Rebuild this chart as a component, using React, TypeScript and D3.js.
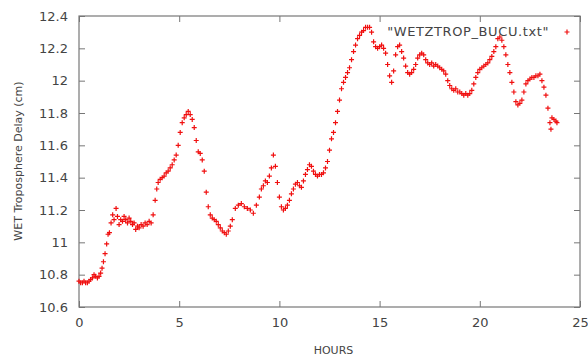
import React, { useRef, useEffect } from 'react';
import * as d3 from 'd3';

// hours of day
const hours = [
  0.0, 0.08, 0.17, 0.25, 0.33, 0.42, 0.5, 0.58, 0.67, 0.75, 0.83, 0.92,
  1.0, 1.08, 1.15, 1.22, 1.3, 1.38, 1.45, 1.52, 1.6, 1.68, 1.75, 1.85, 1.92,
  2.0, 2.08, 2.17, 2.25, 2.33, 2.42, 2.5, 2.58, 2.67, 2.75, 2.83, 2.92,
  3.0, 3.1, 3.2, 3.3, 3.4, 3.5, 3.6, 3.7, 3.8, 3.88, 3.95,
  4.05, 4.15, 4.25, 4.35, 4.45, 4.55, 4.65, 4.75, 4.85, 4.95,
  5.05, 5.15, 5.25, 5.35, 5.45, 5.55, 5.65, 5.75, 5.85, 5.95,
  6.05, 6.15, 6.25, 6.35, 6.45, 6.55, 6.65, 6.75, 6.85, 6.95,
  7.05, 7.15, 7.25, 7.35, 7.45, 7.55, 7.65, 7.8, 7.95,
  8.1, 8.25, 8.4, 8.55, 8.7, 8.85, 9.0, 9.1, 9.2, 9.3, 9.4, 9.5, 9.6, 9.7, 9.8, 9.9,
  10.0, 10.1, 10.2, 10.3, 10.4, 10.5, 10.6, 10.7, 10.8, 10.9,
  11.0, 11.1, 11.2, 11.3, 11.4, 11.5, 11.6, 11.7, 11.8, 11.9,
  12.0, 12.1, 12.2, 12.3, 12.4, 12.5, 12.6, 12.7, 12.8, 12.9,
  13.0, 13.1, 13.2, 13.3, 13.4, 13.5, 13.6, 13.7, 13.8, 13.9,
  14.0, 14.1, 14.2, 14.3, 14.4, 14.5, 14.6, 14.7, 14.8, 14.9,
  15.0, 15.1, 15.2, 15.3, 15.4, 15.5, 15.6, 15.7, 15.8, 15.9,
  16.0, 16.1, 16.2, 16.3, 16.4, 16.5, 16.6, 16.7, 16.8, 16.9,
  17.0, 17.1, 17.2, 17.3, 17.4, 17.5, 17.6, 17.7, 17.8, 17.9,
  18.0, 18.1, 18.2, 18.3, 18.4, 18.5, 18.6, 18.7, 18.8, 18.9,
  19.0, 19.1, 19.2, 19.3, 19.4, 19.5, 19.6, 19.7, 19.8, 19.9,
  20.0, 20.1, 20.2, 20.3, 20.4, 20.5, 20.6, 20.7, 20.8, 20.9,
  21.0, 21.1, 21.2, 21.3, 21.4, 21.5, 21.6, 21.7, 21.8, 21.9,
  22.0, 22.1, 22.2, 22.3, 22.4, 22.5, 22.6, 22.7, 22.8, 22.9,
  23.0, 23.1, 23.2, 23.3, 23.4, 23.5, 23.55, 23.6, 23.7, 23.8, 23.85
];

// wet tropospheric delay (cm)
const delay = [
  10.76, 10.75, 10.75, 10.76, 10.75, 10.75, 10.76, 10.77, 10.78, 10.80, 10.79, 10.78,
  10.79, 10.81, 10.84, 10.88, 10.93, 10.99, 11.05, 11.06, 11.12, 11.17, 11.14, 11.21, 11.16,
  11.11, 11.14, 11.13, 11.16, 11.14, 11.12, 11.15, 11.13, 11.11, 11.12, 11.08, 11.10,
  11.09, 11.11, 11.10, 11.12, 11.11, 11.13, 11.12, 11.17, 11.26, 11.33, 11.37,
  11.39, 11.40, 11.41, 11.43, 11.44, 11.46, 11.48, 11.51, 11.54, 11.60,
  11.68, 11.74, 11.77, 11.79, 11.81, 11.79, 11.76, 11.71, 11.63, 11.56,
  11.55, 11.51, 11.44, 11.31, 11.22, 11.17, 11.15, 11.14, 11.13, 11.11,
  11.09, 11.07, 11.06, 11.05, 11.07, 11.10, 11.14, 11.21, 11.23,
  11.24, 11.22, 11.21, 11.20, 11.18, 11.23, 11.28, 11.33, 11.35, 11.38, 11.37, 11.41, 11.46, 11.54, 11.47, 11.37,
  11.28, 11.22, 11.20, 11.21, 11.23, 11.26, 11.30, 11.33, 11.36, 11.37,
  11.35, 11.34, 11.38, 11.42, 11.45, 11.48, 11.47, 11.44, 11.42, 11.41,
  11.42, 11.42, 11.43, 11.46, 11.50, 11.57, 11.64, 11.68, 11.74, 11.81,
  11.88, 11.95, 11.99, 12.02, 12.05, 12.08, 12.13, 12.18, 12.22, 12.26,
  12.28, 12.30, 12.31, 12.33, 12.33, 12.33, 12.30, 12.24, 12.21, 12.20,
  12.21, 12.22, 12.20, 12.17, 12.10, 12.03, 11.99, 12.06, 12.16, 12.21,
  12.22, 12.18, 12.14, 12.09, 12.05, 12.04, 12.05, 12.07, 12.10, 12.14,
  12.16, 12.17, 12.16, 12.13, 12.11, 12.10, 12.11, 12.09, 12.10, 12.09,
  12.08, 12.07, 12.06, 12.04, 12.00, 11.97, 11.95, 11.94, 11.95, 11.93,
  11.93, 11.92, 11.91, 11.92, 11.91, 11.92, 11.94, 11.98, 12.02, 12.05,
  12.07, 12.08, 12.09, 12.10, 12.11, 12.13, 12.15, 12.18, 12.21, 12.26,
  12.27, 12.25, 12.21, 12.16, 12.10, 12.05, 11.99, 11.93, 11.87, 11.85,
  11.86, 11.88, 11.93, 11.98, 12.00, 12.01, 12.02, 12.02, 12.03, 12.03,
  12.04, 12.00, 11.96, 11.91, 11.83, 11.74, 11.70, 11.77, 11.76, 11.75, 11.74
];

const xTicks = [0, 5, 10, 15, 20, 25];
const yTicks = [10.6, 10.8, 11, 11.2, 11.4, 11.6, 11.8, 12, 12.2, 12.4];
const seriesName = '"WETZTROP_BUCU.txt"';

const App = () => {
  const chartRef = useRef(null);

  useEffect(() => {
    d3.select(chartRef.current).selectAll("*").remove();

    const svg = d3.select(chartRef.current)
      .attr("width", 588)
      .attr("height", 362);

    const margin = { top: 16, right: 8, bottom: 55, left: 79 };
    const width = 588 - margin.left - margin.right;
    const height = 362 - margin.top - margin.bottom;
    const font = "DejaVu Sans, sans-serif";
    const axisColor = "#777";
    const textColor = "#444";
    const tick = 6;

    const x = d3.scaleLinear().domain([0, 25]).range([0, width]);
    const y = d3.scaleLinear().domain([10.6, 12.4]).range([height, 0]);

    const g = svg.append("g")
      .attr("transform", `translate(${margin.left},${margin.top})`);

    // gnuplot style: inward ticks, mirrored on all sides
    const styleAxis = (a) => {
      a.select(".domain").remove();
      a.selectAll("line").attr("stroke", axisColor);
      a.selectAll("text")
        .attr("fill", textColor)
        .style("font-family", font)
        .style("font-size", "13px");
    };

    g.append("g")
      .attr("transform", `translate(0,${height})`)
      .call(d3.axisBottom(x).tickValues(xTicks).tickSizeInner(-tick).tickSizeOuter(0).tickPadding(11).tickFormat(d3.format("d")))
      .call(styleAxis);

    g.append("g")
      .call(d3.axisTop(x).tickValues(xTicks).tickSizeInner(-tick).tickSizeOuter(0).tickFormat(() => ""))
      .call(styleAxis);

    g.append("g")
      .call(d3.axisLeft(y).tickValues(yTicks).tickSizeInner(-tick).tickSizeOuter(0).tickPadding(11).tickFormat(d => String(+d.toFixed(1))))
      .call(styleAxis);

    g.append("g")
      .attr("transform", `translate(${width},0)`)
      .call(d3.axisRight(y).tickValues(yTicks).tickSizeInner(-tick).tickSizeOuter(0).tickFormat(() => ""))
      .call(styleAxis);

    g.append("rect")
      .attr("width", width)
      .attr("height", height)
      .attr("fill", "none")
      .attr("stroke", axisColor)
      .attr("stroke-width", 1.2);

    // plus markers
    const data = hours.map((h, i) => ({ h, v: delay[i] }));
    const plus = (cx, cy, r) => `M${cx - r},${cy}H${cx + r}M${cx},${cy - r}V${cy + r}`;

    g.append("path")
      .attr("d", data.map(d => plus(x(d.h), y(d.v), 2.5)).join(""))
      .attr("fill", "none")
      .attr("stroke", "#f01010")
      .attr("stroke-width", 1.2);

    // legend
    g.append("text")
      .attr("x", width - 31)
      .attr("y", 20)
      .attr("text-anchor", "end")
      .attr("fill", textColor)
      .style("font-family", font)
      .style("font-size", "13px")
      .style("letter-spacing", "0.6px")
      .text(seriesName);

    g.append("path")
      .attr("d", plus(width - 13, 16, 2.5))
      .attr("stroke", "#f01010")
      .attr("stroke-width", 1.2);

    // axis titles
    svg.append("text")
      .attr("x", margin.left + width / 2 + 4)
      .attr("y", 354)
      .attr("text-anchor", "middle")
      .attr("fill", textColor)
      .style("font-family", font)
      .style("font-size", "11px")
      .text("HOURS");

    svg.append("text")
      .attr("transform", `translate(22,${margin.top + 145}) rotate(-90)`)
      .attr("text-anchor", "middle")
      .attr("fill", textColor)
      .style("font-family", font)
      .style("font-size", "11px")
      .text("WET Troposphere Delay (cm)");
  }, []);

  return <svg ref={chartRef} style={{ position: "absolute", left: 0, top: 0 }}></svg>;
};

export default App;
